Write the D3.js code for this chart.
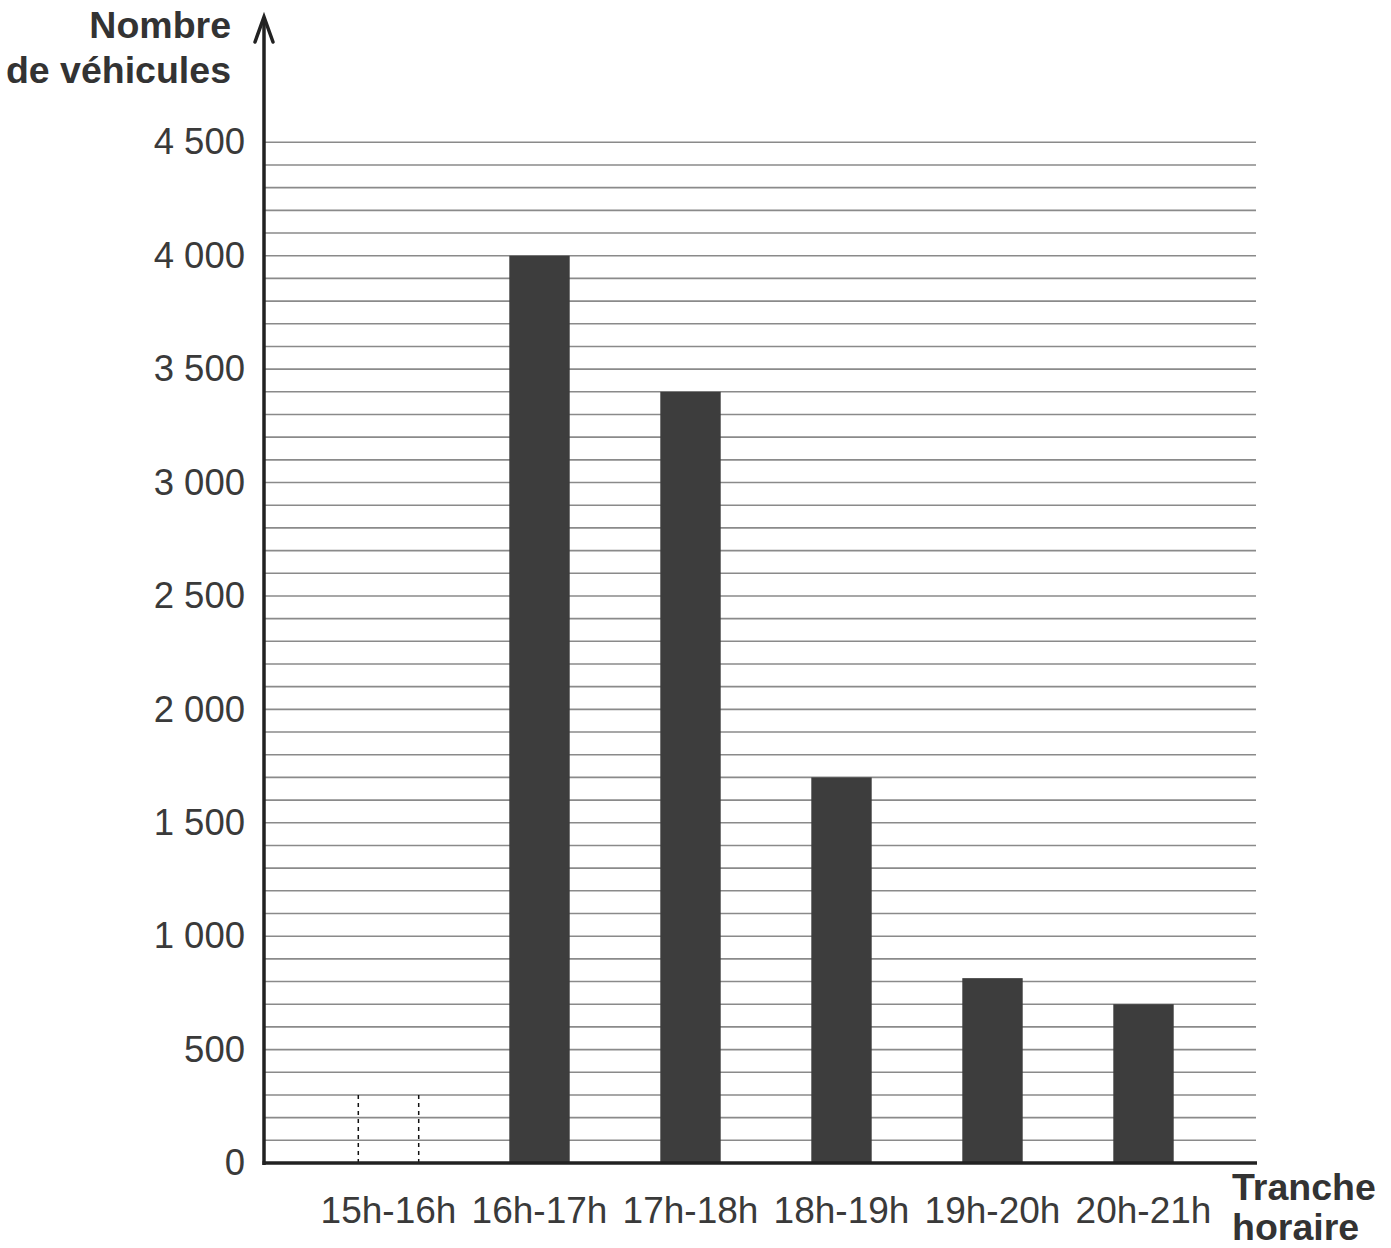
<!DOCTYPE html>
<html>
<head>
<meta charset="utf-8">
<script src="https://cdn.jsdelivr.net/npm/d3@7"></script>
<style>
  html, body { margin: 0; padding: 0; background: #fff; }
  svg { display: block; }
  text { font-family: "Liberation Sans", Arial, sans-serif; }
</style>
</head>
<body>
<svg id="chart" width="1391" height="1248"></svg>
<script>
// ---- data ----
const categories = ["15h-16h", "16h-17h", "17h-18h", "18h-19h", "19h-20h", "20h-21h"];
const values = [null, 4000, 3400, 1700, 815, 700];
const missingCategory = "15h-16h";
const missingValue = 300; // dashed outline, bar to be completed
const yTickValues = [0, 500, 1000, 1500, 2000, 2500, 3000, 3500, 4000, 4500];
const yTickLabels = ["0", "500", "1 000", "1 500", "2 000", "2 500", "3 000", "3 500", "4 000", "4 500"];
const gridValues = d3.range(100, 4501, 100);
const yTitle = ["Nombre", "de véhicules"];
const xTitle = ["Tranche", "horaire"];

// ---- layout ----
const svg = d3.select("#chart");
const x0 = 264, xEnd = 1257, y0 = 1163;

const y = d3.scaleLinear().domain([0, 4500]).range([y0, 142.3]);
const x = d3.scaleBand().domain(categories).range([313, 1219])
  .paddingInner(0.6).paddingOuter(0.3);

// gridlines
svg.append("g").selectAll("line").data(gridValues).join("line")
  .attr("x1", x0).attr("x2", 1256)
  .attr("y1", d => y(d)).attr("y2", d => y(d))
  .attr("stroke", "#8a8a8a").attr("stroke-width", 1.6);

// bars
const barData = categories.map((c, i) => ({c, v: values[i]})).filter(d => d.v != null);
svg.append("g").selectAll("rect").data(barData).join("rect")
  .attr("x", d => x(d.c)).attr("width", x.bandwidth())
  .attr("y", d => y(d.v)).attr("height", d => y(0) - y(d.v))
  .attr("fill", "#3d3d3d");

// dashed placeholder for missing bar
const mx = x(missingCategory);
svg.append("g").selectAll("line").data([mx, mx + x.bandwidth()]).join("line")
  .attr("x1", d => d).attr("x2", d => d)
  .attr("y1", y(missingValue)).attr("y2", y(0))
  .attr("stroke", "#111").attr("stroke-width", 1.5)
  .attr("stroke-dasharray", "4,4");

// y axis (custom labels via d3 axis)
const yAxis = d3.axisLeft(y).tickValues(yTickValues)
  .tickFormat((d, i) => yTickLabels[i]).tickSize(0).tickPadding(19);
const gy = svg.append("g").attr("transform", `translate(${x0},0)`).call(yAxis);
gy.select(".domain").remove();
gy.selectAll("text").attr("font-size", 36.5).attr("fill", "#3a3a3a")
  .attr("font-family", "Liberation Sans, Arial, sans-serif");

// x axis labels
const xAxis = d3.axisBottom(x).tickSize(0).tickPadding(0);
const gx = svg.append("g").attr("transform", `translate(0,${y0})`).call(xAxis);
gx.select(".domain").remove();
gx.selectAll("text").attr("font-size", 37).attr("fill", "#3a3a3a")
  .attr("dy", null).attr("y", 60)
  .attr("font-family", "Liberation Sans, Arial, sans-serif");

// axis lines
svg.append("line").attr("x1", x0).attr("x2", x0).attr("y1", 17).attr("y2", y0 + 2)
  .attr("stroke", "#222").attr("stroke-width", 3.5);
svg.append("line").attr("x1", x0 - 1.5).attr("x2", xEnd).attr("y1", y0).attr("y2", y0)
  .attr("stroke", "#222").attr("stroke-width", 3.5);
// arrow head
svg.append("path").attr("d", `M${x0 - 9},${42} L${x0},${17} L${x0 + 9},${42}`)
  .attr("fill", "none").attr("stroke", "#222").attr("stroke-width", 3.5)
  .attr("stroke-linecap", "round").attr("stroke-linejoin", "miter");

// titles
svg.append("g").selectAll("text").data(yTitle).join("text")
  .attr("x", 231).attr("y", (d, i) => 38 + i * 45)
  .attr("text-anchor", "end").attr("font-size", 37.5).attr("font-weight", "bold")
  .attr("fill", "#333").text(d => d);
svg.append("g").selectAll("text").data(xTitle).join("text")
  .attr("x", 1232).attr("y", (d, i) => 1200 + i * 40)
  .attr("text-anchor", "start").attr("font-size", 37.5).attr("font-weight", "bold")
  .attr("fill", "#333").text(d => d);
</script>
</body>
</html>
